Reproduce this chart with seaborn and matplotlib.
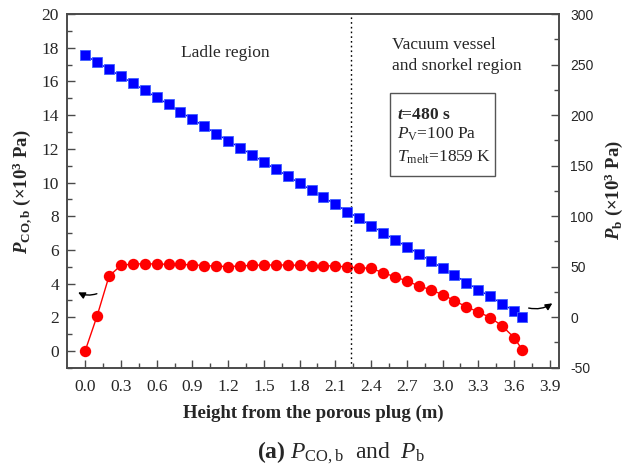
import numpy as np
import pandas as pd
import matplotlib
matplotlib.use("Agg")
import matplotlib.pyplot as plt
from matplotlib.patches import Rectangle
import seaborn as sns

# Height above the porous plug (m)
height = [0.0, 0.1, 0.2, 0.3, 0.4, 0.5, 0.6, 0.7, 0.8, 0.9,
          1.0, 1.1, 1.2, 1.3, 1.4, 1.5, 1.6, 1.7, 1.8, 1.9,
          2.0, 2.1, 2.2, 2.3, 2.4, 2.5, 2.6, 2.7, 2.8, 2.9,
          3.0, 3.1, 3.2, 3.3, 3.4, 3.5, 3.6, 3.67]

# CO partial pressure in the bubble (x10^3 Pa), left axis
p_co_b = [0.0, 2.07, 4.43, 5.08, 5.16, 5.17, 5.16, 5.14, 5.13, 5.11,
          5.07, 5.03, 5.01, 5.04, 5.08, 5.10, 5.10, 5.10, 5.08, 5.07,
          5.06, 5.04, 4.98, 4.93, 4.91, 4.64, 4.40, 4.15, 3.86, 3.63,
          3.34, 2.98, 2.61, 2.31, 1.98, 1.48, 0.79, 0.05]

# Bubble pressure (x10^3 Pa), right axis
p_b = [259.4, 252.2, 245.6, 238.4, 231.8, 224.5, 217.6, 210.7, 203.1, 196.2,
       188.9, 181.7, 174.7, 167.8, 160.9, 153.6, 146.4, 139.8, 132.6, 125.8,
       118.6, 111.8, 104.5, 98.0, 90.4, 83.8, 76.5, 69.9, 62.7, 55.8,
       48.5, 41.6, 34.3, 27.1, 20.5, 13.2, 6.3, 0.3]

region_boundary = 2.23

df = pd.DataFrame({"height": height, "p_co_b": p_co_b, "p_b": p_b})

sns.set_style("ticks")
serif = "Liberation Serif"
plt.rcParams["font.family"] = [serif, "DejaVu Serif"]
plt.rcParams["axes.unicode_minus"] = False
plt.rcParams["mathtext.fontset"] = "custom"
plt.rcParams["mathtext.rm"] = serif
plt.rcParams["mathtext.it"] = serif + ":italic"
plt.rcParams["mathtext.bf"] = serif + ":bold"
plt.rcParams["mathtext.bfit"] = serif + ":italic:bold"

spine_col = "#4a4a4a"

fig = plt.figure(figsize=(6.26, 4.72), dpi=100)
ax = fig.add_axes([0.1075, 0.221, 0.786, 0.749])
ax2 = ax.twinx()

sns.lineplot(data=df, x="height", y="p_co_b", ax=ax, color="#ff0000",
             marker="o", markersize=8.2, markeredgewidth=0, linewidth=1.0)
sns.lineplot(data=df, x="height", y="p_b", ax=ax2, color="#0000ff",
             marker="s", markersize=7.6, markeredgewidth=0.6,
             markeredgecolor="#3f5fff", linewidth=1.0)

ax.axvline(region_boundary, color="black", linestyle=(0, (1.2, 2.2)), linewidth=1.0)

ax.set_xlim(-0.15, 3.98)
ax.set_ylim(-1, 20)
ax2.set_ylim(-50, 300)

ax.set_xticks(np.arange(0, 3.91, 0.3))
ax.set_xticklabels([f"{v:.1f}" for v in np.arange(0, 3.91, 0.3)])
ax.set_xticks(np.arange(0.15, 3.91, 0.3), minor=True)
ax.set_yticks(np.arange(0, 21, 2))
ax.set_yticks(np.arange(-1, 20, 2), minor=True)
ax2.set_yticks(np.arange(-50, 301, 50))
ax2.set_yticks(np.arange(-25, 300, 50), minor=True)

for a in (ax, ax2):
    a.set_xlabel("")
    a.set_ylabel("")
    for s in a.spines.values():
        s.set_visible(True)
        s.set_color(spine_col)
        s.set_linewidth(1.2)

ax.tick_params(axis="both", which="major", direction="in", length=6, width=1.0,
               color=spine_col, labelsize=12.5, pad=6)
ax.tick_params(axis="both", which="minor", direction="in", length=3.5, width=1.0,
               color=spine_col)
ax.tick_params(axis="x", which="major", pad=8)
ax.tick_params(axis="y", which="both", left=True, right=False)
ax.tick_params(axis="x", which="both", top=False, bottom=True)

ax2.tick_params(axis="y", which="major", direction="in", length=6, width=1.0,
                color=spine_col, labelsize=10, pad=8)
ax2.tick_params(axis="y", which="minor", direction="in", length=3.5, width=1.0,
                color=spine_col)
ax2.set_yticklabels([str(v) for v in range(-50, 301, 50)])
for lab in ax2.get_yticklabels():
    lab.set_fontfamily("Liberation Sans")

# Region labels
ax.text(1.174, 17.69, "Ladle region", ha="center", va="center", fontsize=12.5)
ax.text(2.577, 17.55, "Vacuum vessel\nand snorkel region", ha="left", va="center",
        fontsize=12.5, linespacing=1.4)

# Operating conditions box
ax.add_patch(Rectangle((2.56, 10.41), 0.883, 4.91, fill=False,
                       edgecolor="#555555", linewidth=1.0, zorder=3))
ax.text(2.62, 13.78, r"$\mathbfit{t}$=480 s", ha="left", va="baseline",
        fontsize=12.5, fontweight="bold")
ax.text(2.62, 12.58, r"$P_{\rm V}$=100 Pa", ha="left", va="baseline", fontsize=12.5)
ax.text(2.62, 11.24, r"$T_{\rm melt}$=1859 K", ha="left", va="baseline", fontsize=12.5)

# Arrows pointing each series to its axis
ax.annotate("", xy=(-0.08, 3.55), xytext=(0.12, 3.45),
            arrowprops=dict(arrowstyle="-|>", color="black", lw=1.0,
                            mutation_scale=10,
                            connectionstyle="arc3,rad=-0.25"))
ax.annotate("", xy=(3.94, 2.92), xytext=(3.70, 2.58),
            arrowprops=dict(arrowstyle="-|>", color="black", lw=1.0,
                            mutation_scale=10,
                            connectionstyle="arc3,rad=0.25"))

# Axis titles
fig.text(22 / 626, 1 - 192 / 472,
         r"$\mathbfit{P}_{\mathbf{CO,b}}$ (×10$^{\mathbf{3}}$ Pa)",
         rotation=90, ha="center", va="center", fontsize=13.5, fontweight="bold")
fig.text(614 / 626, 1 - 190 / 472,
         r"$\mathbfit{P}_{\mathbf{b}}$ (×10$^{\mathbf{3}}$ Pa)",
         rotation=90, ha="center", va="center", fontsize=13.5, fontweight="bold")
fig.text(313 / 626, 1 - 413 / 472, "Height from the porous plug (m)",
         ha="center", va="center", fontsize=13.5, fontweight="bold")
fig.text(341 / 626, 1 - 453 / 472,
         r"$\mathbf{(a)}$ $P_{\rm CO,b}$  and  $P_{\rm b}$",
         ha="center", va="center", fontsize=17)

fig.savefig("out.png", dpi=100)
